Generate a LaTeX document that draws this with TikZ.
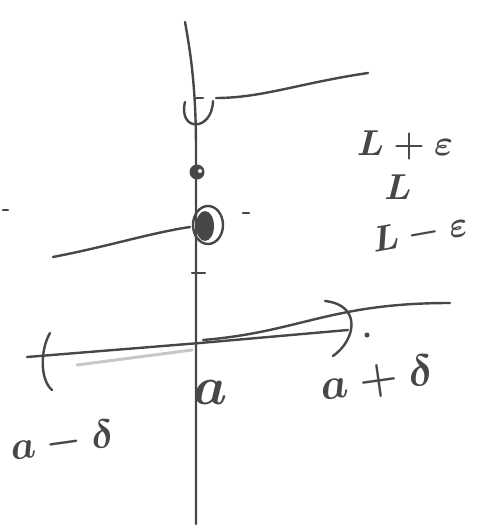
\RequirePackage{fix-cm}
\documentclass[tikz,border=0pt]{standalone}
\usepackage{amsmath,amssymb}
\tikzset{pen/.style={line width=2.4pt,draw=black!72,line cap=round,line join=round},
  hand/.style={text=black!72,inner sep=0pt,font=\fontsize{36}{38}\selectfont\boldmath}}

\begin{document}
\begin{tikzpicture}[x=1pt,y=-1pt]
\useasboundingbox (0,0) rectangle (490,529);
% axes
\draw[pen] (185,22) .. controls (192,60) and (196,95) .. (196,150) -- (196,524);
\draw[pen] (27,357) -- (200,343) -- (348,330);
\draw[black!22,line width=3pt,line cap=round] (77,365) -- (192,350);
% the three pieces of the graph
\draw[pen] (216,98) .. controls (262,98) and (300,83) .. (368,73);
\draw[pen] (53,257) .. controls (110,246) and (150,233) .. (190,227);
\draw[pen] (203,340) .. controls (300,332) and (330,303) .. (450,303);
% marks on the axis
\draw[pen] (185,102) .. controls (178,132) and (212,132) .. (213,101);
\draw[pen] (196,98) -- (203,98);
\fill[black!72] (197,172) circle (7.5);
\fill[white] (200,171) circle (2);
\draw[pen] (208,225) ellipse (15 and 19);
\fill[black!72] (205,226) ellipse (9 and 15);
\draw[pen] (192,273) -- (205,273);
% interval ends
\draw[pen] (50,333) .. controls (40,350) and (40,380) .. (52,390);
\draw[pen] (325,301) .. controls (362,305) and (356,340) .. (333,356);
\fill[black!72] (367,335) circle (2.5);
\draw[pen] (3,210) -- (8,210);
\draw[pen] (243,213) -- (249,213);
% labels
\node[hand] (Lplus) at (405,145) {$L+\varepsilon$};
\node[hand] (Lmid) at (398,187) {$L$};
\node[hand,rotate=10] (Lminus) at (420,234) {$L-\varepsilon$};
\node[hand,rotate=8,font=\fontsize{44}{46}\selectfont\boldmath] (aplus) at (377,380) {$a+\delta$};
\node[hand,rotate=8,font=\fontsize{40}{42}\selectfont\boldmath] (aminus) at (62,442) {$a-\delta$};
\node[hand,font=\fontsize{54}{56}\selectfont\boldmath] (apt) at (211,392) {$a$};
\end{tikzpicture}
\end{document}
